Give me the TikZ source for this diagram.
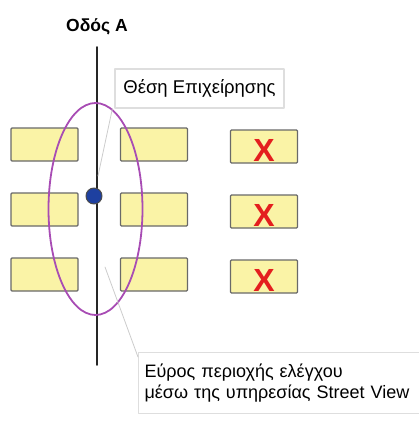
\documentclass[tikz,border=0pt]{standalone}
\usepackage{fontspec}
\setmainfont{Liberation Sans}
\usetikzlibrary{positioning,calc}
\definecolor{shopfill}{RGB}{250,243,166}
\definecolor{shopedge}{RGB}{105,105,105}
\definecolor{ringcol}{RGB}{168,76,180}
\definecolor{dotblue}{RGB}{30,64,160}
\definecolor{crossred}{RGB}{228,30,30}

\begin{document}
\begin{tikzpicture}[
		x=1pt, y=-1pt,
		line join=round, line cap=round,
		shop/.style={draw=shopedge, fill=shopfill, line width=1.3pt,
				minimum width=67pt, minimum height=33pt, inner sep=0pt, rounded corners=1pt},
		callout/.style={draw=black!13, fill=white, line width=1.2pt, inner sep=0pt},
		pointer/.style={draw=black!20, line width=0.8pt},
		cross/.style={text=crossred, font=\bfseries\fontsize{32}{32}\selectfont, inner sep=0pt}
	]
	\useasboundingbox (0,0) rectangle (418,425);

	% Road
	\node[font=\bfseries\fontsize{17.5}{20}\selectfont] (road) at (97,27) {Οδός Α};
	\coordinate (roadtop) at (97,47);
	\coordinate (roadend) at (97,365);
	\draw[black!85, line width=1.6pt] (roadtop) -- (roadend);

	% Shops
	\foreach \r/\y in {1/144.5, 2/209.5, 3/274.5}{
			\node[shop] (L\r) at (44.5,\y) {};
			\node[shop] (M\r) at (154,\y) {};
			\node[shop] (R\r) at (264,\y+2) {};
			\node[cross] (X\r) at ($(R\r)+(0,4)$) {X};
		}

	% Search range
	\draw[ringcol, line width=1.8pt] (95.5,209) ellipse [x radius=47, y radius=106];

	% Business location
	\node[circle, fill=dotblue, draw=black!70, line width=1pt,
		minimum size=16pt, inner sep=0pt] (shop) at (94,196) {};

	% Callouts
	\node[callout, minimum width=169pt, minimum height=39pt,
		font=\fontsize{18.5}{20}\selectfont] (place) at (199.5,88.5) {Θέση Επιχείρησης};
	\coordinate (tipA) at (98,176);
	\draw[pointer] ($(place.south west)+(-2,0)$) -- (tipA);

	\node[callout, anchor=north west, minimum width=300pt, minimum height=61pt,
		text width=290pt, inner xsep=6pt, align=left,
		font=\fontsize{18}{21}\selectfont] (range) at (138,352)
		{Εύρος περιοχής ελέγχου\\μέσω της υπηρεσίας Street View};
	\coordinate (tipB) at (105,267);
	\draw[pointer] ($(range.north west)+(0,5)$) -- (tipB);
\end{tikzpicture}
\end{document}
